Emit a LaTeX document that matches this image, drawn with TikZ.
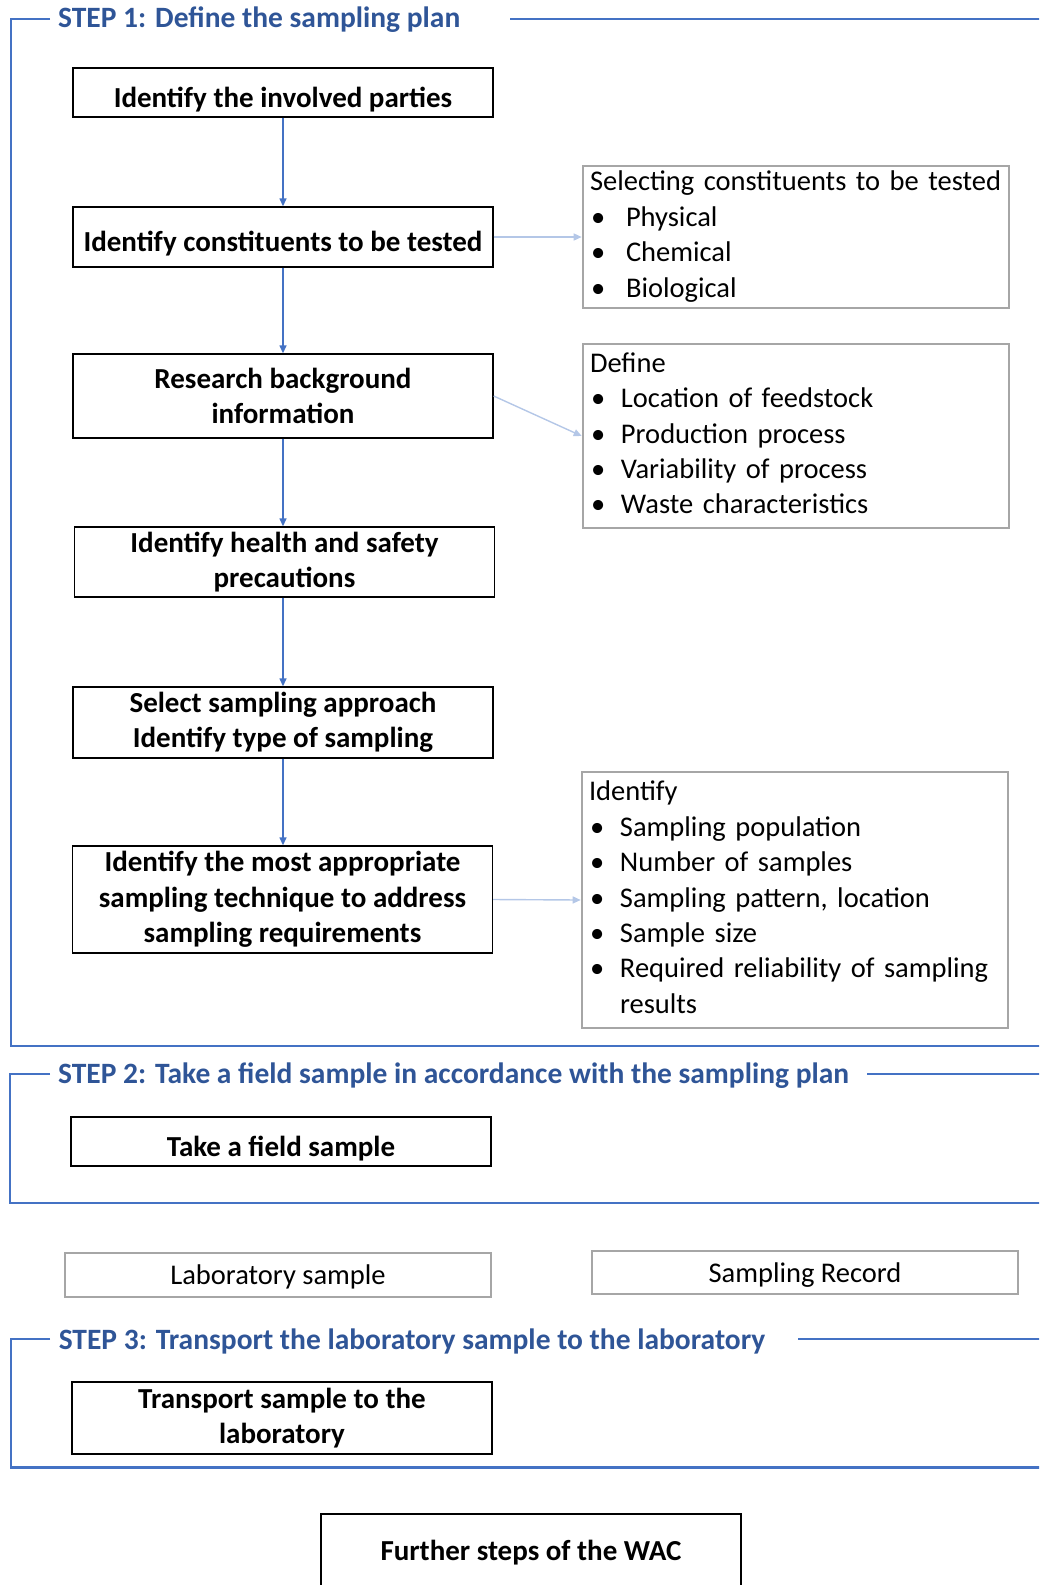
\documentclass[tikz,border=0pt]{standalone}
\usepackage{fontspec}
\setmainfont{Carlito}
\usetikzlibrary{arrows.meta}
\usetikzlibrary{positioning}

\definecolor{stepblue}{RGB}{47,85,151}
\definecolor{frameblue}{RGB}{68,114,196}
\definecolor{lightblue}{RGB}{180,199,231}
\definecolor{notegray}{RGB}{166,166,166}
\newcommand{\blt}[1]{\makebox[#1][l]{\hspace{1pt}\textbullet}}

\begin{document}
\begin{tikzpicture}[x=1pt,y=-1pt,
  every node/.style={font=\fontsize{28.5}{35.4}\selectfont},
  stepbox/.style={draw=black, line width=1.4pt, minimum width=420pt, inner sep=0pt,
    align=center, font=\bfseries\fontsize{29}{35.4}\selectfont},
  notebox/.style={draw=notegray, line width=2.6pt, minimum width=426pt, inner xsep=7pt,
    inner ysep=0pt, text width=412pt, align=left},
  steptitle/.style={anchor=west, inner sep=0pt, text=stepblue,
    font=\bfseries\fontsize{29.5}{35.4}\selectfont},
  dropby/.style={text height=#1, text depth=0pt},
  frameline/.style={frameblue, line width=2.2pt},
  flow/.style={frameblue, line width=1.4pt, -{Triangle[length=8pt,width=7pt]}},
  side/.style={lightblue, line width=1.4pt, -{Triangle[length=8pt,width=7pt]}}]
\useasboundingbox (0,0) rectangle (1039,1585);
\clip (0,0) rectangle (1039,1585);

% STEP 1
\draw[frameline] (50,19) -- (11,19) -- (11,1046) -- (1045,1046);
\draw[frameline] (510,19) -- (1045,19);
\node[steptitle] (t1) at (58,20) {STEP 1: Define the sampling plan};

\node[stepbox, dropby=29pt, minimum height=49pt] (b1) at (283,92.5) {Identify the involved parties};
\node[stepbox, dropby=29pt, minimum height=60pt] (b2) at (283,237) {Identify constituents to be tested};
\node[stepbox, minimum height=84pt] (b3) at (283,396) {Research background\\information};
\node[stepbox, minimum height=70pt] (b4) at (284.5,562) {Identify health and safety\\precautions};
\node[stepbox, minimum height=71pt] (b5) at (283,722.5) {Select sampling approach\\Identify type of sampling};
\node[stepbox, minimum height=107pt] (b6) at (282.5,899.5) {Identify the most appropriate\\sampling technique to address\\sampling requirements};

\node[notebox, minimum height=142pt] (r1) at (796,237) {\begin{tabular}{@{}l@{}l@{}}
\multicolumn{2}{@{}l@{}}{Selecting constituents to be tested}\\
\blt{36pt} & Physical\\
\blt{36pt} & Chemical\\
\blt{36pt} & Biological
\end{tabular}};
\node[notebox, minimum height=184pt] (r2) at (796,436) {\begin{tabular}{@{}l@{}l@{}}
\multicolumn{2}{@{}l@{}}{Define}\\
\blt{31pt} & Location of feedstock\\
\blt{31pt} & Production process\\
\blt{31pt} & Variability of process\\
\blt{31pt} & Waste characteristics
\end{tabular}};
\node[notebox, minimum height=256pt] (r3) at (795,900) {\begin{tabular}{@{}l@{}l@{}}
\multicolumn{2}{@{}l@{}}{Identify}\\
\blt{31pt} & Sampling population\\
\blt{31pt} & Number of samples\\
\blt{31pt} & Sampling pattern, location\\
\blt{31pt} & Sample size\\
\blt{31pt} & Required reliability of sampling\\
 & results
\end{tabular}};

\draw[flow] (b1.south) -- (b1.south |- b2.north);
\draw[flow] (b2.south) -- (b2.south |- b3.north);
\draw[flow] (b3.south) -- (b3.south |- b4.north);
\draw[flow] (b4.south -| b1.south) -- (b1.south |- b5.north);
\draw[flow] (b5.south) -- (b5.south |- b6.north);
\draw[side] (b2.east) -- (r1.west);
\draw[side] (b3.east) -- (r2.west);
\draw[side] (b6.east) -- (r3.west);

% STEP 2
\draw[frameline] (50,1074) -- (10,1074) -- (10,1203) -- (1045,1203);
\draw[frameline] (867,1074) -- (1045,1074);
\node[steptitle] (t2) at (58,1076) {STEP 2: Take a field sample in accordance with the sampling plan};
\node[stepbox, dropby=29pt, minimum height=49pt] (fs) at (281,1141.5) {Take a field sample};

\node[notebox, dropby=19pt, minimum height=44pt, text width=, align=center] (lab) at (278,1275) {Laboratory sample};
\node[notebox, dropby=19pt, minimum height=43pt, text width=, align=center] (rec) at (805,1272.5) {Sampling Record};

% STEP 3
\draw[frameline] (50,1339) -- (11,1339) -- (11,1467.5) -- (1045,1467.5);
\draw[frameline] (798,1339) -- (1045,1339);
\node[steptitle] (t3) at (58.6,1341) {STEP 3: Transport the laboratory sample to the laboratory};
\node[stepbox, minimum height=72pt] (tr) at (282,1418) {Transport sample to the\\laboratory};

\node[stepbox, dropby=19pt, minimum height=74pt] (wac) at (531,1551) {Further steps of the WAC};
\end{tikzpicture}
\end{document}
